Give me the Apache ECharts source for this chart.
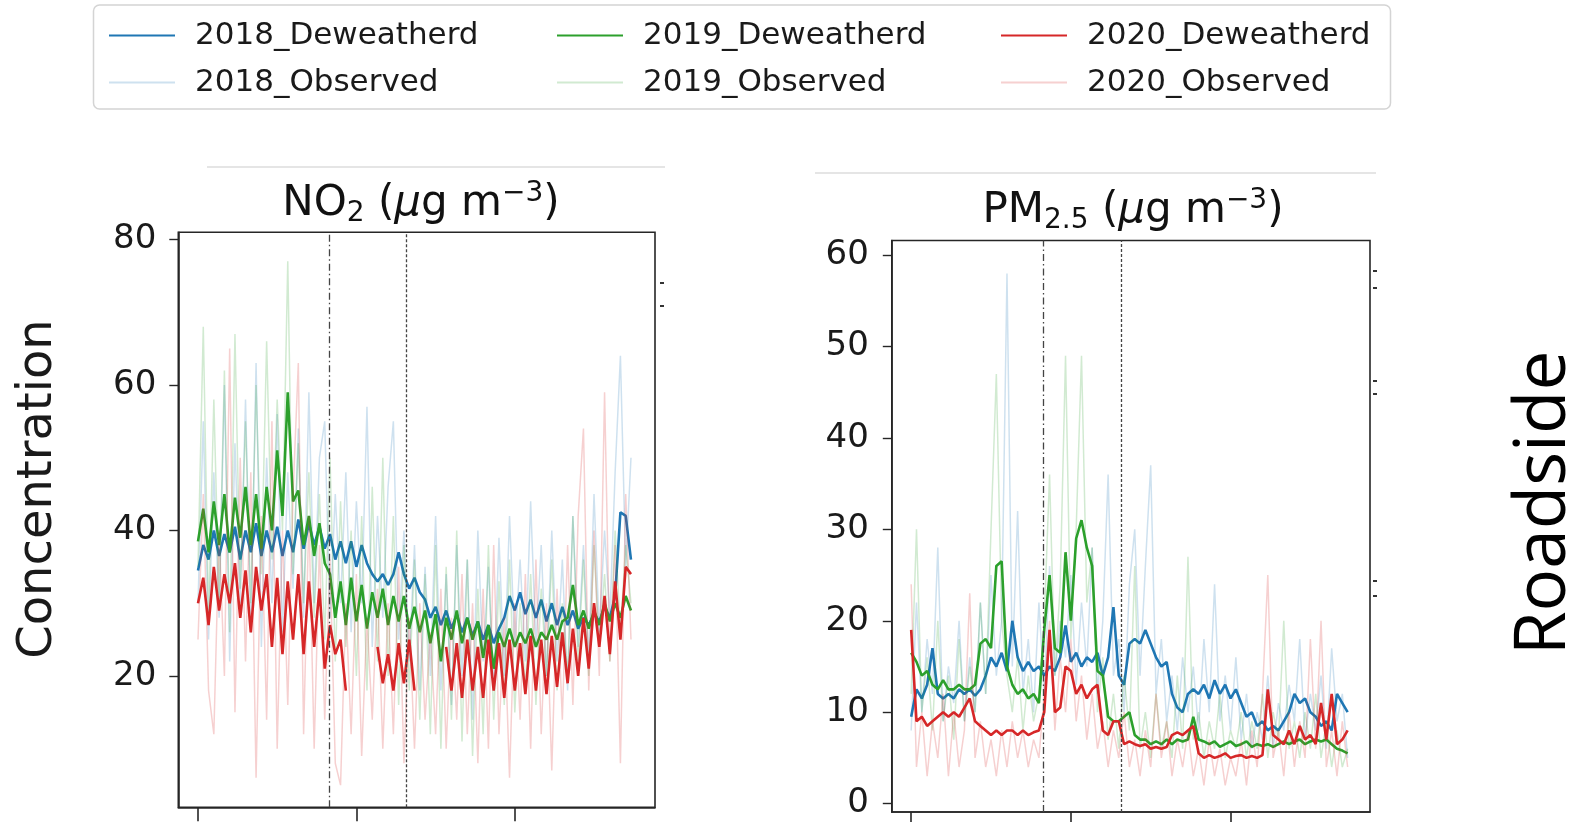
<!DOCTYPE html>
<html>
<head>
<meta charset="utf-8">
<script src="https://cdn.jsdelivr.net/npm/echarts@6/dist/echarts.min.js"></script>
<style>
  html, body { margin: 0; padding: 0; background: #fff; }
  #chart { width: 1581px; height: 822px; }
</style>
</head>
<body>
<div id="chart"></div>
<script>
// day index 0..82 is the x value of every point
var legendCols = [
	['2018_Deweatherd', '2018_Observed'],
	['2019_Deweatherd', '2019_Observed'],
	['2020_Deweatherd', '2020_Observed']
];
var yearColors = ['#1f77b4', '#2ca02c', '#d62728'];
var xTicks = [0, 30, 60];
var no2Ticks = [20, 40, 60, 80];
var pmTicks = [0, 10, 20, 30, 40, 50, 60];
var eventDays = [24.8, 39.5];

// NO2 panel
var no2D2018 = [34.5,38,36,40,36.5,39.5,37,40.5,36,40, 37,41,36.5,40,37,40.5,36.5,40,37,41.5,
	37.5,41,38,40.5,37.5,39.5,36,38.5,35.5,38.5, 35,38,35.5,34,33,34,32.5,34,37,34,
	32,33.5,31.5,30.5,28,29.5,27,29,26.5,28.5, 26,28,25.5,27.5,25,27,24.5,26.5,28,31,
	29,31.5,28.5,30.5,28,30.5,27.5,30,27,29.5, 27,29,26.5,28,27,28.5,27.5,29.5,28,31,
	42.5,42,36];
var no2O2018 = [30,55,25,48,28,60,22,52,30,58, 26,63,24,50,30,56,26,48,32,54,
	28,59,30,50,55,28,45,30,48,26, 44,30,57,24,42,28,46,55,25,40,
	22,38,18,35,20,42,18,34,16,38, 20,36,14,40,22,35,18,39,20,42,
	24,36,22,44,24,38,20,40,22,36, 18,42,24,38,22,45,26,40,28,48,
	64,35,50];
var no2D2019 = [38.5,43,37,44,38,45,37,44.5,39,46, 38,45,37.5,46,40,51,42,59,44,45.5,
	38,42,36.5,41,35.5,34,28,33,27,33.5, 27.5,32.5,26.5,31.5,28,32,27,31,27.5,31,
	26.5,29.5,26,29,24.5,28.5,22,28,25,29, 24.5,28,25,27.5,22.5,27,21,26,24,26.5,
	24,26,24.5,26.5,24,26,25,27,25,27.5, 28,32.5,27,29,26.5,29,27,30,27.5,30,
	28,31,29];
var no2O2019 = [35,68,28,58,30,62,26,67,32,55, 30,60,34,66,36,58,40,77,34,52,
	30,48,28,45,25,50,22,44,24,40, 20,42,18,46,22,50,20,42,16,38,
	18,36,14,34,12,38,10,35,14,40, 11,36,9,32,12,38,14,33,16,36,
	15,30,18,34,16,32,20,36,18,30, 20,42,22,36,20,38,24,34,22,40,
	26,38,30];
var no2D2020 = [30,33.5,27,35,29,34,30,35.5,28,34.5, 26,35,29,34,24,33.5,23,33,25,34,
	23,33,24,32,21,27,23,25,18,null, null,null,null,null,24,19,23,18,24.5,19,
	25,18,null,null,null,null,null,24,18,24.5, 17,25,18,24,17,25,18,24.5,17,25,
	18,24.5,17.5,25.5,18,25,17.5,25.5,18.5,26, 19,26.5,20,28,21,30,24,31,23,33,
	25,35,34];
var no2O2020 = [25,45,18,12,40,20,65,15,50,22, 48,6,42,14,55,10,40,16,45,63,
	12,42,10,38,14,36,8,5,30,12, 34,9,28,14,32,10,30,12,35,8,
	28,10,30,14,26,12,32,10,28,14, 34,12,30,8,32,10,38,12,28,6,
	30,14,34,10,36,12,30,7,32,14, 38,16,42,54,18,40,20,59,22,38,
	8,45,25];

// PM2.5 panel
var pmD2018 = [9.5,12.5,11.5,13,17,12,11.5,12,11.5,12.5, 12,12.5,11.8,12.5,14,16,15,16.5,14.5,20,
	16,14.5,15.5,14.5,15,14,15,14.5,16,19.5, 15.5,16.5,15,16,15.5,16.5,14,16,21.5,14,
	13,17.5,18,17.5,19,17.5,16,15,15.5,12, 10.5,10,12,12.5,12,13,11.5,13.5,12,13,
	11.5,12.5,11,9.5,10,8.5,9,8,8.5,8, 9,10,12,11,11.5,10,9.5,8.5,9,8,
	12,11,10];
var pmO2018 = [8,22,10,18,12,28,9,15,11,20, 9,16,10,22,12,25,14,20,58,15,
	32,12,18,10,22,12,26,14,20,16, 25,13,22,15,28,12,20,36,14,18,
	10,24,30,14,26,37,12,18,9,14, 8,16,10,15,8,18,10,24,9,14,
	8,16,7,12,6,10,7,14,6,11, 8,13,9,18,7,12,8,14,6,17,
	9,12,5];
var pmD2019 = [16.5,15.5,14,14.5,13,12.5,13.5,12.5,12.5,13, 12.5,12.5,13,17.5,18,17,26,26.5,15,13,
	12,12.5,11.5,12,11,19,25,17,16.5,27.5, 20,29,31,28,26,14.5,14,9.5,9,9,
	9.5,10,7.5,7,7,6.5,6.8,6.5,7,6.5, 7,6.8,7,9.5,7,6.8,6.5,6.8,6.2,6.5,
	6.8,6.3,6.5,6.8,6.2,6.5,6.3,6.5,6.2,6.5, 6.8,6.5,6.8,7,6.5,6.8,7,6.8,7,6.5,
	6,5.8,5.5];
var pmO2019 = [12,30,10,16,8,20,9,14,7,18, 9,15,10,22,12,30,47,20,14,10,
	16,8,14,9,12,20,36,14,24,49, 18,30,49,22,28,10,16,7,12,6,
	14,8,26,6,10,5,12,6,9,5, 14,6,27,7,10,5,9,6,12,5,
	8,6,10,5,9,6,12,5,10,7, 20,6,9,5,10,6,12,5,9,4,
	8,4,6];
var pmD2020 = [19,9,9.5,8.5,9,9.5,10,9.5,10,9.5, 10.5,11.5,9,8.5,8,7.5,8,7.5,8,8,
	7.5,8,7.5,7.8,8,10,19,10,10.5,15, 14.5,12,13,11.5,12.5,13,8,7.5,9,9,
	6.5,6.8,6.5,6.3,6.5,6,6.2,6,6.2,7.5, 7.8,7.5,8,8.5,5.5,5,5.3,5,5.2,5.5,
	5,5.2,5.3,5,5.2,5,5.3,12.5,7.5,7, 6.5,8,6.5,8.5,7,7.5,6.5,11,7,12,
	6.5,7,8];
var pmO2020 = [24,4,10,3,9,5,12,3,10,4, 8,23,5,9,4,7,3,8,4,9,
	5,8,4,7,5,12,20,8,16,10, 18,9,14,7,12,6,9,4,8,5,
	10,4,7,3,8,4,12,5,9,3, 7,4,8,3,6,2,7,3,6,2,
	5,3,7,2,8,4,12,25,5,8, 3,10,4,9,5,18,6,20,4,8,
	3,9,4];

var FONT = 'DejaVu Sans';
var FAINT = 0.22;

function pts(vals){
	return vals.map(function(v, i){
		return [i, v === null ? '-' : v];
	});
}

function makeSeries(gi, lists){
	var out = [];
	for(var k = 0; k < 3; k++){
		var c = yearColors[k];
		out.push({
			name: legendCols[k][0], type: 'line', xAxisIndex: gi, yAxisIndex: gi,
			data: pts(lists[k][0]), symbol: 'none', silent: true,
			lineStyle: {color: c, width: 2.6}, itemStyle: {color: c}
		});
		out.push({
			name: legendCols[k][1], type: 'line', xAxisIndex: gi, yAxisIndex: gi,
			data: pts(lists[k][1]), symbol: 'none', silent: true,
			lineStyle: {color: c, width: 1.5, opacity: FAINT}, itemStyle: {color: c}
		});
	}
	out[0].markLine = {
		silent: true, symbol: ['none', 'none'], label: {show: false},
		lineStyle: {color: '#444', width: 1.3},
		data: [
			{xAxis: eventDays[0], lineStyle: {type: [7, 3, 1.5, 3]}},
			{xAxis: eventDays[1], lineStyle: {type: [3, 2]}}
		]
	};
	return out;
}

function legendCol(left, k){
	return {
		left: left, top: 15, orient: 'vertical', selectedMode: false,
		icon: 'rect', itemWidth: 66, itemHeight: 2, itemGap: 16,
		textStyle: {fontFamily: FONT, fontSize: 31, color: '#1a1a1a', lineHeight: 30, padding: [0, 0, 0, 15]},
		data: [
			{name: legendCols[k][0], itemStyle: {color: yearColors[k], opacity: 1}},
			{name: legendCols[k][1], itemStyle: {color: yearColors[k], opacity: FAINT}}
		]
	};
}

function xAxis(gi, min, max){
	return {
		type: 'value', gridIndex: gi, min: min, max: max,
		axisLine: {show: true, onZero: false, lineStyle: {color: '#262626', width: 1.6}},
		axisTick: {show: true, length: 14, customValues: xTicks, lineStyle: {color: '#262626', width: 1.6}},
		axisLabel: {show: false},
		splitLine: {show: false}
	};
}

function yAxis(gi, min, max, ticks, margin){
	return {
		type: 'value', gridIndex: gi, min: min, max: max,
		axisLine: {show: true, onZero: false, lineStyle: {color: '#262626', width: 1.6}},
		axisTick: {show: true, length: 9, customValues: ticks, lineStyle: {color: '#262626', width: 1.4}},
		axisLabel: {customValues: ticks, margin: margin, fontFamily: FONT, fontSize: 34, color: '#1a1a1a'},
		splitLine: {show: false}
	};
}

var titleRich = {
	a: {fontFamily: FONT, fontSize: 42, fontWeight: 'normal', color: '#111', lineHeight: 48, verticalAlign: 'middle'},
	i: {fontFamily: FONT, fontSize: 42, fontWeight: 'normal', color: '#111', lineHeight: 48, verticalAlign: 'middle', fontStyle: 'italic'},
	b: {fontFamily: FONT, fontSize: 28, fontWeight: 'normal', color: '#111', lineHeight: 20, verticalAlign: 'bottom'},
	p: {fontFamily: FONT, fontSize: 28, fontWeight: 'normal', color: '#111', lineHeight: 30, verticalAlign: 'top'}
};

var option = {
	backgroundColor: '#fff',
	animation: false,
	title: [
		{text: '{a|NO}{b|2}{a| (}{i|μ}{a|g m}{p|−3}{a|)}', left: 416, top: 175, textAlign: 'center',
			textStyle: {fontWeight: 'normal', rich: titleRich}},
		{text: '{a|PM}{b|2.5}{a| (}{i|μ}{a|g m}{p|−3}{a|)}', left: 1128, top: 182, textAlign: 'center',
			textStyle: {fontWeight: 'normal', rich: titleRich}}
	],
	legend: [legendCol(104, 0), legendCol(552, 1), legendCol(996, 2)],
	grid: [
		{left: 178.3, top: 232.3, width: 476.7, height: 575, show: true, borderColor: '#262626', borderWidth: 1.6},
		{left: 891.8, top: 240.5, width: 478.2, height: 571.5, show: true, borderColor: '#262626', borderWidth: 1.6}
	],
	xAxis: [xAxis(0, -3.73, 86.55), xAxis(1, -3.64, 86.2)],
	yAxis: [yAxis(0, 1.95, 80.98, no2Ticks, 22), yAxis(1, -0.92, 61.6, pmTicks, 23)],
	series: makeSeries(0, [[no2D2018, no2O2018], [no2D2019, no2O2019], [no2D2020, no2O2020]])
		.concat(makeSeries(1, [[pmD2018, pmO2018], [pmD2019, pmO2019], [pmD2020, pmO2020]])),
	graphic: [
		{type: 'rect', shape: {x: 93.5, y: 5, width: 1297, height: 104, r: 6},
			style: {fill: 'none', stroke: '#d4d4d4', lineWidth: 1.5}},
		{type: 'line', shape: {x1: 207, y1: 167, x2: 665, y2: 167}, style: {stroke: '#dcdcdc', lineWidth: 1.5}},
		{type: 'line', shape: {x1: 815, y1: 173, x2: 1376, y2: 173}, style: {stroke: '#dcdcdc', lineWidth: 1.5}},
		{type: 'text', x: 39, y: 489, rotation: Math.PI / 2,
			style: {text: 'Concentration', fontFamily: FONT, fontSize: 48, fill: '#1a1a1a', align: 'center', verticalAlign: 'middle'}},
		{type: 'text', x: 1545, y: 503, rotation: Math.PI / 2,
			style: {text: 'Roadside', fontFamily: 'Open Sans', fontSize: 71, fill: '#000', align: 'center', verticalAlign: 'middle'}},
		// leftover tick marks of neighbouring panels
		{type: 'rect', shape: {x: 660, y: 282, width: 4, height: 2}, style: {fill: '#333'}},
		{type: 'rect', shape: {x: 660, y: 305, width: 4, height: 2}, style: {fill: '#333'}},
		{type: 'rect', shape: {x: 1373, y: 270, width: 4, height: 2}, style: {fill: '#333'}},
		{type: 'rect', shape: {x: 1373, y: 287, width: 4, height: 2}, style: {fill: '#333'}},
		{type: 'rect', shape: {x: 1373, y: 380, width: 4, height: 2}, style: {fill: '#333'}},
		{type: 'rect', shape: {x: 1373, y: 393, width: 4, height: 2}, style: {fill: '#333'}},
		{type: 'rect', shape: {x: 1373, y: 580, width: 4, height: 2}, style: {fill: '#333'}},
		{type: 'rect', shape: {x: 1373, y: 595, width: 4, height: 2}, style: {fill: '#333'}}
	]
};

var myChart = echarts.init(document.getElementById('chart'), null, {renderer: 'canvas'});
myChart.setOption(option);
</script>
</body>
</html>
